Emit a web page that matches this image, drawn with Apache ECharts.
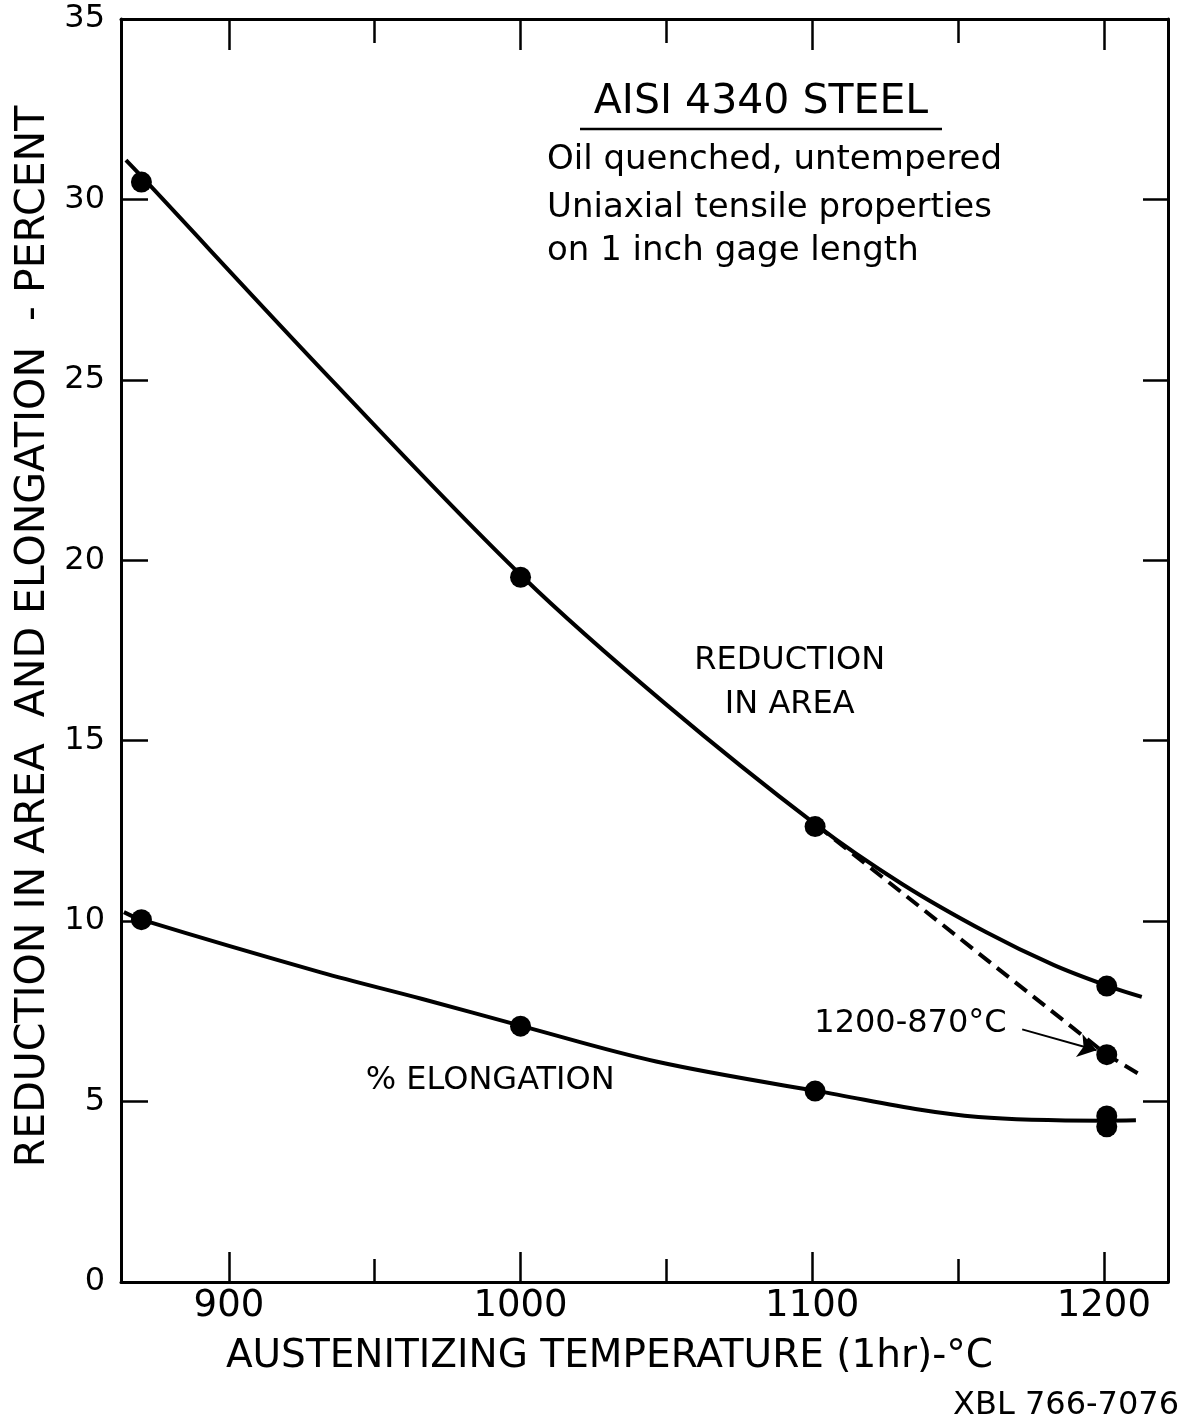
<!DOCTYPE html>
<html><head><meta charset="utf-8">
<script src="https://cdn.jsdelivr.net/npm/echarts@6.0.0/dist/echarts.min.js"></script>
<style>html,body{margin:0;padding:0;background:#fff;}#chart{width:1190px;height:1428px;}</style>
</head><body><div id="chart"></div>
<script>
// ---- tick values ----
const xMajorTicks = [900, 1000, 1100, 1200];
const xMinorTicks = [950, 1050, 1150];
const yTicks = [0, 5, 10, 15, 20, 25, 30, 35];

const reductionPoints = [[870, 30.48], [1000, 19.53], [1101, 12.62], [1201, 8.2]];
const cycledPoints = [[1201, 6.3]];
const elongationPoints = [[870, 10.04], [1000, 7.09], [1101, 5.29], [1201, 4.6], [1201, 4.3]];

// ---- hand-drawn curves ----
const reductionCurve = [[864.7, 31.09], [869.9, 30.65], [934.6, 25.05], [1000.9, 19.53], [1050, 16.0], [1101.5, 12.66], [1130.8, 11.03], [1159.7, 9.69], [1182.9, 8.78], [1202.5, 8.17], [1213, 7.9]];
const cycledCurve = [[1101.5, 12.66], [1201, 6.3], [1212.3, 5.75]];
const elongationCurve = [[864, 10.25], [870, 10.04], [931.5, 8.58], [966, 7.85], [1000.5, 7.09], [1046.5, 6.11], [1101.8, 5.29], [1157, 4.57], [1200, 4.47], [1211, 4.48]];

// ---- annotation ----
const arrowFrom = [1172, 7.0];
const arrowTo = [1197.5, 6.42];
const labelReduction = { text: 'REDUCTION\nIN AREA', at: [1092.3, 16.6] };
const labelElongation = { text: '% ELONGATION', at: [989.6, 5.57] };
const labelCycled = { text: '1200-870°C', at: [1133.7, 7.15] };

const FONT = '"DejaVu Sans", sans-serif';
const chart = echarts.init(document.getElementById('chart'), null, { renderer: 'canvas' });

function xAx(position, ticks, len, withLine, withLabels) {
  return {
    type: 'value', min: 863, max: 1222, position: position,
    axisLine: { show: withLine, onZero: false, lineStyle: { color: '#000', width: 3 } },
    axisTick: { show: true, inside: true, length: len, customValues: ticks, lineStyle: { color: '#000', width: 2.5 } },
    axisLabel: withLabels ? { show: true, customValues: ticks, formatter: function (v) { return String(v); }, color: '#000', fontFamily: FONT, fontSize: 37, margin: 6 } : { show: false },
    splitLine: { show: false }
  };
}

const option = {
  animation: false,
  backgroundColor: '#fff',
  grid: { left: 121, right: 22, top: 19, bottom: 146, containLabel: false, outerBoundsMode: 'none' },
  xAxis: [
    Object.assign(xAx('bottom', xMajorTicks, 30, true, true), {
      name: 'AUSTENITIZING TEMPERATURE (1hr)-°C', nameLocation: 'middle', nameGap: 55,
      nameTextStyle: { color: '#000', fontFamily: FONT, fontSize: 39, padding: [0, 70, 0, 0] }
    }),
    xAx('bottom', xMinorTicks, 23, false, false),
    xAx('top', xMajorTicks, 31, true, false),
    xAx('top', xMinorTicks, 24, false, false)
  ],
  yAxis: [
    {
      type: 'value', min: 0, max: 35, interval: 5, position: 'left',
      axisLine: { show: true, onZero: false, lineStyle: { color: '#000', width: 3 } },
      axisTick: { show: true, inside: true, length: 27, lineStyle: { color: '#000', width: 2.5 } },
      axisLabel: { show: true, color: '#000', fontFamily: FONT, fontSize: 32, margin: 16 },
      splitLine: { show: false },
      name: 'REDUCTION IN AREA  AND ELONGATION  - PERCENT', nameLocation: 'middle', nameRotate: 90, nameGap: 66,
      nameTextStyle: { color: '#000', fontFamily: FONT, fontSize: 41, padding: [0, 0, 0, 28] }
    },
    {
      type: 'value', min: 0, max: 35, interval: 5, position: 'right',
      axisLine: { show: true, onZero: false, lineStyle: { color: '#000', width: 3 } },
      axisTick: { show: true, inside: true, length: 25, lineStyle: { color: '#000', width: 2.5 } },
      axisLabel: { show: false },
      splitLine: { show: false }
    }
  ],
  series: [
    {
      type: 'line', data: reductionCurve, smooth: 0.35, showSymbol: false, silent: true,
      lineStyle: { color: '#000', width: 4 }
    },
    {
      type: 'line', data: elongationCurve, smooth: 0.35, showSymbol: false, silent: true,
      lineStyle: { color: '#000', width: 4 }
    },
    {
      type: 'line', data: cycledCurve, smooth: false, showSymbol: false, silent: true,
      lineStyle: { color: '#000', width: 4, type: [15, 8] },
      markLine: {
        silent: true, symbol: ['none', 'arrow'], symbolSize: 18,
        lineStyle: { color: '#000', width: 2, type: 'solid', opacity: 1 },
        itemStyle: { color: '#000' },
        label: { show: false },
        data: [[{ coord: arrowFrom }, { coord: arrowTo }]]
      }
    },
    {
      type: 'scatter', data: reductionPoints.concat(cycledPoints, elongationPoints),
      symbol: 'circle', symbolSize: 21, silent: true,
      itemStyle: { color: '#000', opacity: 1 },
      markPoint: {
        silent: true, symbol: 'circle', symbolSize: 0,
        label: { show: true, position: 'inside', formatter: '{b}', color: '#000', fontFamily: FONT, fontSize: 32, lineHeight: 44, align: 'center' },
        data: [
          { name: labelReduction.text, coord: labelReduction.at },
          { name: labelElongation.text, coord: labelElongation.at },
          { name: labelCycled.text, coord: labelCycled.at }
        ]
      }
    }
  ],
  graphic: [
    { type: 'text', style: { text: 'AISI 4340 STEEL', x: 761, y: 102, textAlign: 'center', textVerticalAlign: 'middle', font: '41px ' + FONT, fill: '#000' } },
    { type: 'line', shape: { x1: 580, y1: 129, x2: 942, y2: 129 }, style: { stroke: '#000', lineWidth: 2.5 } },
    { type: 'text', style: { text: 'Oil quenched, untempered', x: 547, y: 160, textAlign: 'left', textVerticalAlign: 'middle', font: '34px ' + FONT, fill: '#000' } },
    { type: 'text', style: { text: 'Uniaxial tensile properties', x: 547, y: 208, textAlign: 'left', textVerticalAlign: 'middle', font: '34px ' + FONT, fill: '#000' } },
    { type: 'text', style: { text: 'on 1 inch gage length', x: 547, y: 251, textAlign: 'left', textVerticalAlign: 'middle', font: '34px ' + FONT, fill: '#000' } },
    { type: 'text', style: { text: 'XBL 766-7076', x: 1179, y: 1406, textAlign: 'right', textVerticalAlign: 'middle', font: '32px ' + FONT, fill: '#000' } }
  ]
};
chart.setOption(option);
</script>
</body></html>
